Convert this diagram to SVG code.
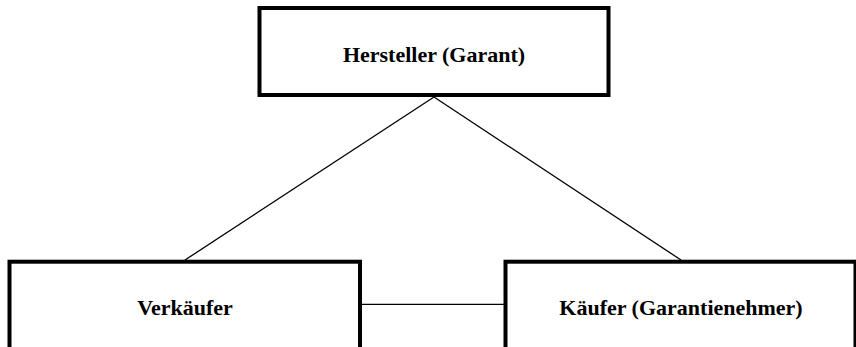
<svg xmlns="http://www.w3.org/2000/svg" width="856" height="347" viewBox="0 0 856 347">
  <style>
    .box { fill: #ffffff; stroke: #000000; stroke-width: 4; }
    .link { stroke: #000000; stroke-width: 1.3; fill: none; }
    .label { font-family: "Liberation Serif", "Times New Roman", serif; font-weight: bold; font-size: 22px; fill: #000000; text-anchor: middle; }
  </style>
  <rect width="856" height="347" fill="#ffffff"/>
  <g id="connectors">
    <line class="link" x1="434" y1="97" x2="185" y2="260"/>
    <line class="link" x1="434" y1="97" x2="681" y2="260"/>
    <line class="link" x1="362" y1="304.3" x2="504" y2="304.3"/>
  </g>
  <g id="hersteller">
    <rect class="box" x="259.5" y="8" width="349" height="87"/>
    <text class="label" x="434" y="62">Hersteller (Garant)</text>
  </g>
  <g id="verkaeufer">
    <rect class="box" x="9.5" y="261.7" width="350.5" height="90"/>
    <text class="label" x="185" y="315">Verkäufer</text>
  </g>
  <g id="kaeufer">
    <rect class="box" x="505.5" y="261.7" width="350" height="90"/>
    <text class="label" x="681" y="315">Käufer (Garantienehmer)</text>
  </g>
</svg>
